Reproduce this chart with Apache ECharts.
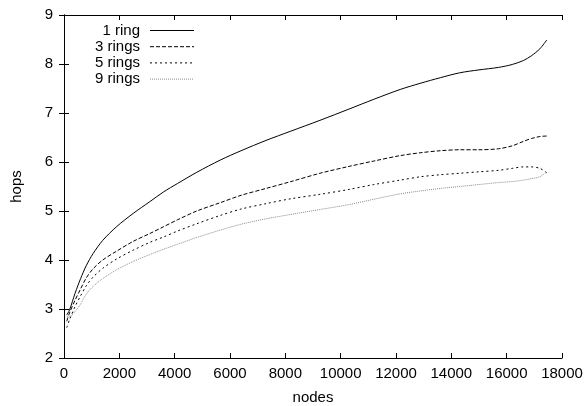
<!DOCTYPE html>
<html>
<head>
<meta charset="utf-8">
<script src="https://cdn.jsdelivr.net/npm/echarts@6/dist/echarts.min.js"></script>
<style>
  html, body { margin: 0; padding: 0; background: #fff; }
  #chart { width: 588px; height: 406px; }
</style>
</head>
<body>
<div id="chart"></div>
<script>
// values
const nodes = [100, 200, 400, 600, 800, 1050, 1400, 1900, 2500, 3100, 3600, 4100, 4800,
  5650, 6400, 7300, 8200, 9250, 10300, 11200, 12150, 12900, 13600, 14300, 15000, 15700,
  16200, 16600, 16900, 17200, 17450]
const ring1 = [2.88, 2.98, 3.32, 3.62, 3.88, 4.13, 4.40, 4.68, 4.95, 5.19, 5.39, 5.56, 5.79,
  6.04, 6.23, 6.44, 6.63, 6.85, 7.08, 7.28, 7.48, 7.61, 7.72, 7.82, 7.88, 7.93,
  7.99, 8.07, 8.17, 8.31, 8.49]
const rings3 = [2.75, 2.92, 3.18, 3.41, 3.63, 3.82, 4.00, 4.18, 4.38, 4.54, 4.68, 4.82, 5.00,
  5.17, 5.32, 5.46, 5.60, 5.77, 5.91, 6.02, 6.13, 6.19, 6.23, 6.25, 6.25, 6.27,
  6.33, 6.42, 6.48, 6.52, 6.53]
const rings5 = [2.62, 2.78, 3.05, 3.27, 3.47, 3.65, 3.83, 4.02, 4.20, 4.36, 4.47, 4.59, 4.74,
  4.91, 5.04, 5.15, 5.25, 5.34, 5.44, 5.54, 5.63, 5.70, 5.74, 5.77, 5.80, 5.83,
  5.87, 5.90, 5.90, 5.87, 5.78]
const rings9 = [2.85, 2.85, 2.95, 3.10, 3.30, 3.46, 3.62, 3.80, 3.97, 4.11, 4.22, 4.32, 4.46,
  4.61, 4.73, 4.84, 4.93, 5.03, 5.13, 5.24, 5.35, 5.41, 5.46, 5.50, 5.54, 5.58,
  5.60, 5.63, 5.66, 5.70, 5.80]
const seriesNames = ['1 ring', '3 rings', '5 rings', '9 rings']

const font = 'Liberation Sans, Arial, sans-serif'
const pair = (ys) => nodes.map((x, i) => [x, ys[i]])

function lineSeries (name, ys, color, type) {
  return {
    name,
    type: 'line',
    data: pair(ys),
    smooth: 0.3,
    symbol: 'none',
    color,
    lineStyle: { color, width: 1, type },
    emphasis: { disabled: true }
  }
}

const axisCommon = {
  axisLine: { lineStyle: { color: '#000', width: 1 } },
  axisTick: { inside: true, length: 5, lineStyle: { color: '#000' } },
  splitLine: { show: false }
}

const chart = echarts.init(document.getElementById('chart'))
chart.setOption({
  animation: false,
  grid: { left: 64, right: 26, top: 15, bottom: 48, outerBoundsMode: 'none' },
  legend: {
    data: seriesNames,
    orient: 'vertical',
    left: 95,
    top: 23,
    padding: 0,
    align: 'right',
    itemWidth: 44,
    itemHeight: 14,
    itemGap: 1.2,
    itemStyle: { opacity: 0 },
    lineStyle: { width: 1 },
    textStyle: { fontFamily: font, fontSize: 15, color: '#000', padding: [0, 5, 0, 0] }
  },
  xAxis: [
    Object.assign({
      type: 'value', min: 0, max: 18000, interval: 2000,
      name: 'nodes', nameLocation: 'middle', nameGap: 32,
      nameTextStyle: { fontFamily: font, fontSize: 15, color: '#000' },
      axisLabel: { fontFamily: font, fontSize: 15, color: '#000', margin: 8, formatter: v => String(v) }
    }, axisCommon),
    Object.assign({
      type: 'value', min: 0, max: 18000, interval: 2000, position: 'top',
      axisLabel: { show: false }
    }, axisCommon)
  ],
  yAxis: [
    Object.assign({
      type: 'value', min: 2, max: 9, interval: 1,
      name: 'hops', nameLocation: 'middle', nameGap: 40,
      nameTextStyle: { fontFamily: font, fontSize: 15, color: '#000' },
      axisLabel: { fontFamily: font, fontSize: 15, color: '#000', margin: 11 }
    }, axisCommon),
    Object.assign({
      type: 'value', min: 2, max: 9, interval: 1, position: 'right',
      axisLabel: { show: false }
    }, axisCommon)
  ],
  series: [
    lineSeries(seriesNames[0], ring1, '#000', 'solid'),
    lineSeries(seriesNames[1], rings3, '#000', [4, 2]),
    lineSeries(seriesNames[2], rings5, '#000', [2, 3]),
    lineSeries(seriesNames[3], rings9, '#888', [1, 1])
  ]
})
</script>
</body>
</html>
